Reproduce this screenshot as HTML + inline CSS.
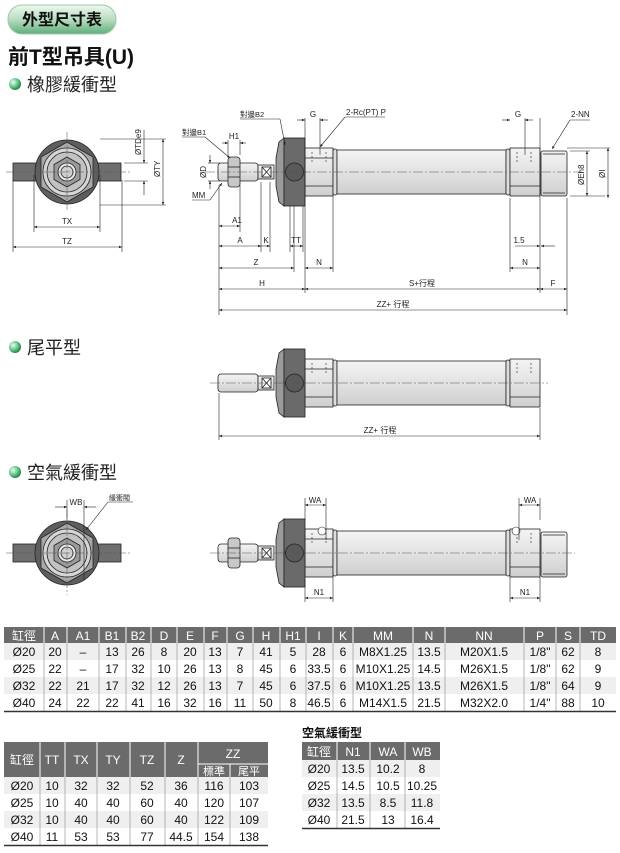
<!DOCTYPE html>
<html><head><meta charset="utf-8"><style>
html,body{margin:0;padding:0;background:#fff;width:620px;height:853px;overflow:hidden}
svg{display:block}
text{font-family:"Liberation Sans","Noto Sans CJK TC",sans-serif}
</style></head><body>
<svg width="620" height="853" viewBox="0 0 620 853" xmlns="http://www.w3.org/2000/svg">
<defs>
<linearGradient id="pill" x1="0" y1="0" x2="0" y2="1"><stop offset="0" stop-color="#eef8f0"/><stop offset="0.5" stop-color="#b8dcc0"/><stop offset="1" stop-color="#5fae7a"/></linearGradient>
<radialGradient id="ball" cx="0.35" cy="0.35" r="0.7"><stop offset="0" stop-color="#e8fff0"/><stop offset="0.6" stop-color="#5cc080"/><stop offset="1" stop-color="#1f7a45"/></radialGradient>
<linearGradient id="metal" x1="0" y1="0" x2="0" y2="1"><stop offset="0" stop-color="#f4f4f4"/><stop offset="0.5" stop-color="#e2e2e2"/><stop offset="1" stop-color="#cfcfcf"/></linearGradient>
<marker id="ar" viewBox="0 0 10 10" refX="10" refY="5" markerWidth="6" markerHeight="5" orient="auto-start-reverse"><path d="M0,1 L10,5 L0,9 z" fill="#222"/></marker>
<g id="cyl" stroke="#222" stroke-width="0.8">
 <rect x="218" y="-9" width="40" height="18" rx="3" fill="url(#metal)"/>
 <rect x="258" y="-7" width="16" height="14" fill="url(#metal)"/>
 <rect x="262" y="-5" width="9" height="10" fill="#fff"/>
 <path d="M262,-5 L271,5 M271,-5 L262,5" fill="none"/>
 <path d="M284,-34 L279,-30 L276,-14 L276,14 L279,30 L284,34 z" fill="#9a9a9a"/>
 <rect x="305" y="-24" width="28" height="48" fill="url(#metal)"/>
 <line x1="305" y1="-14" x2="333" y2="-14"/><line x1="305" y1="14" x2="333" y2="14"/>
 <rect x="333" y="-23" width="4" height="46" rx="2" fill="#ddd"/>
 <rect x="337" y="-22" width="169" height="44" fill="url(#metal)"/>
 <rect x="506" y="-23" width="4" height="46" rx="2" fill="#ddd"/>
 <rect x="510" y="-24" width="30" height="48" fill="url(#metal)"/>
 <line x1="510" y1="14" x2="540" y2="14"/>
 <rect x="284" y="-34" width="21" height="68" fill="#6a6a6a"/>
 <line x1="284" y1="0" x2="305" y2="0"/>
 <circle cx="294.5" cy="0" r="9" fill="#5a5a5a"/>
 <path d="M312,-20 v12 M326,-20 v12 M517,-20 v12 M531,-20 v12" stroke-dasharray="2,2" stroke-width="0.6"/>
</g>
<g id="thread" stroke="#222" stroke-width="0.8"><rect x="541" y="-21" width="26" height="45" rx="2" fill="url(#metal)"/><line x1="543" y1="-18" x2="565" y2="-18"/><line x1="543" y1="21" x2="565" y2="21"/></g>
<g id="nut" stroke="#222" stroke-width="0.8"><rect x="228" y="-15" width="12" height="30" rx="3" fill="#c8c8c8"/><line x1="228" y1="-5" x2="240" y2="-5"/><line x1="228" y1="5" x2="240" y2="5"/></g>
<g id="endv" stroke="#222" stroke-width="0.8">
 <rect x="-54" y="-9" width="108" height="18" fill="#6e6e6e"/>
 <circle r="32" fill="#5e5e5e"/>
 <polygon points="0,-30 26,-15 26,15 0,30 -26,15 -26,-15" fill="#a8a8a8"/>
 <circle r="24" fill="#d6d6d6"/><circle r="20" fill="#c2c2c2"/>
 <polygon points="0,-15 13,-7.5 13,7.5 0,15 -13,7.5 -13,-7.5" fill="#9a9a9a"/>
 <circle r="9" fill="#e6e6e6"/><circle r="6" fill="#cfcfcf"/>
</g>
</defs>

<!-- header -->
<rect x="8" y="5" width="108" height="29" rx="14" fill="url(#pill)" stroke="#9cc9a8"/>
<text x="62" y="25" font-size="16" text-anchor="middle" fill="#111" font-weight="bold">外型尺寸表</text>
<text x="8" y="64" font-size="21" font-weight="bold" fill="#111">前T型吊具(U)</text>
<circle cx="15" cy="84" r="6" fill="url(#ball)"/>
<text x="27" y="91" font-size="18" fill="#222">橡膠緩衝型</text>
<circle cx="15" cy="347" r="6" fill="url(#ball)"/>
<text x="27" y="354" font-size="18" fill="#222">尾平型</text>
<circle cx="15" cy="472" r="6" fill="url(#ball)"/>
<text x="27" y="479" font-size="18" fill="#222">空氣緩衝型</text>

<g font-size="8" fill="#222" stroke-width="0.6">
<!-- end view 1 -->
<use href="#endv" x="67" y="172"/>
<line x1="6" y1="172" x2="130" y2="172" stroke="#555" stroke-dasharray="8,2,2,2" stroke-width="0.5"/>
<line x1="67" y1="132" x2="67" y2="212" stroke="#555" stroke-dasharray="8,2,2,2" stroke-width="0.5"/>
<g stroke="#222">
<line x1="34" y1="175" x2="34" y2="232"/><line x1="100" y1="175" x2="100" y2="232"/>
<line x1="13" y1="180" x2="13" y2="252"/><line x1="122" y1="180" x2="122" y2="252"/>
<line x1="34" y1="227" x2="100" y2="227" marker-start="url(#ar)" marker-end="url(#ar)"/>
<line x1="13" y1="247" x2="122" y2="247" marker-start="url(#ar)" marker-end="url(#ar)"/>
<line x1="124" y1="163" x2="148" y2="163"/><line x1="124" y1="181" x2="148" y2="181"/>
<line x1="144" y1="130" x2="144" y2="163" marker-end="url(#ar)"/><line x1="144" y1="195" x2="144" y2="181" marker-end="url(#ar)"/>
<line x1="100" y1="139" x2="166" y2="139"/><line x1="100" y1="205" x2="166" y2="205"/>
<line x1="163" y1="139" x2="163" y2="205" marker-start="url(#ar)" marker-end="url(#ar)"/>
</g>
<text x="67" y="224" text-anchor="middle">TX</text><text x="67" y="244" text-anchor="middle">TZ</text>
<text transform="translate(141,155) rotate(-90)">ØTDe9</text>
<text transform="translate(160,177) rotate(-90)">ØTY</text>

<!-- side view 1 -->
<use href="#cyl" y="172"/><use href="#thread" y="172"/><use href="#nut" y="172"/>
<line x1="205" y1="172" x2="582" y2="172" stroke="#555" stroke-dasharray="10,2,2,2" stroke-width="0.5"/>
<g stroke="#222">
<line x1="219" y1="185" x2="219" y2="315"/>
<line x1="228" y1="140" x2="228" y2="155"/><line x1="240" y1="140" x2="240" y2="155"/>
<line x1="222" y1="143" x2="228" y2="143" marker-end="url(#ar)"/><line x1="246" y1="143" x2="240" y2="143" marker-end="url(#ar)"/>
<line x1="240" y1="185" x2="240" y2="232"/><line x1="261" y1="182" x2="261" y2="252"/><line x1="270" y1="182" x2="270" y2="252"/>
<line x1="290" y1="206" x2="290" y2="252"/><line x1="303" y1="206" x2="303" y2="252"/><line x1="294" y1="206" x2="294" y2="272"/>
<line x1="305" y1="118" x2="305" y2="293"/><line x1="333" y1="196" x2="333" y2="272"/>
<line x1="510" y1="198" x2="510" y2="272"/><line x1="540" y1="118" x2="540" y2="293"/><line x1="567" y1="198" x2="567" y2="315"/>
<line x1="320" y1="118" x2="320" y2="155"/><line x1="525" y1="118" x2="525" y2="155"/>
<line x1="219" y1="226" x2="240" y2="226" marker-start="url(#ar)" marker-end="url(#ar)"/>
<line x1="219" y1="246" x2="261" y2="246" marker-start="url(#ar)" marker-end="url(#ar)"/>
<line x1="261" y1="246" x2="270" y2="246" marker-end="url(#ar)"/>
<line x1="290" y1="246" x2="303" y2="246" marker-start="url(#ar)" marker-end="url(#ar)"/>
<line x1="219" y1="268" x2="294" y2="268" marker-start="url(#ar)" marker-end="url(#ar)"/>
<line x1="305" y1="268" x2="333" y2="268" marker-start="url(#ar)" marker-end="url(#ar)"/>
<line x1="510" y1="268" x2="540" y2="268" marker-start="url(#ar)" marker-end="url(#ar)"/>
<line x1="219" y1="289" x2="305" y2="289" marker-start="url(#ar)" marker-end="url(#ar)"/>
<line x1="305" y1="289" x2="540" y2="289" marker-start="url(#ar)" marker-end="url(#ar)"/>
<line x1="540" y1="289" x2="567" y2="289" marker-start="url(#ar)" marker-end="url(#ar)"/>
<line x1="219" y1="310" x2="567" y2="310" marker-start="url(#ar)" marker-end="url(#ar)"/>
<line x1="297" y1="120" x2="305" y2="120" marker-end="url(#ar)"/><line x1="328" y1="120" x2="320" y2="120" marker-end="url(#ar)"/>
<line x1="502" y1="120" x2="510" y2="120" marker-end="url(#ar)"/><line x1="533" y1="120" x2="525" y2="120" marker-end="url(#ar)"/>
<line x1="515" y1="246" x2="540" y2="246" marker-end="url(#ar)"/><line x1="555" y1="246" x2="541" y2="246" marker-end="url(#ar)"/>
<line x1="240" y1="119" x2="280" y2="119"/><line x1="280" y1="119" x2="285" y2="145" marker-end="url(#ar)"/>
<line x1="182" y1="137" x2="205" y2="137"/><line x1="205" y1="137" x2="230" y2="158" marker-end="url(#ar)"/>
<line x1="192" y1="200" x2="210" y2="200"/><line x1="210" y1="200" x2="222" y2="183" marker-end="url(#ar)"/>
<line x1="345" y1="117" x2="385" y2="117"/><line x1="345" y1="117" x2="320" y2="147" marker-end="url(#ar)"/>
<line x1="570" y1="120" x2="590" y2="120"/><line x1="570" y1="120" x2="552" y2="149" marker-end="url(#ar)"/>
<line x1="570" y1="151" x2="590" y2="151"/><line x1="570" y1="196" x2="605" y2="196"/><line x1="567" y1="148" x2="610" y2="148"/>
<line x1="587" y1="151" x2="587" y2="196" marker-start="url(#ar)" marker-end="url(#ar)"/>
<line x1="608" y1="148" x2="608" y2="198" marker-start="url(#ar)" marker-end="url(#ar)"/>
<line x1="208" y1="163" x2="220" y2="163"/><line x1="208" y1="181" x2="220" y2="181"/>
<line x1="210" y1="155" x2="210" y2="163" marker-end="url(#ar)"/><line x1="210" y1="189" x2="210" y2="181" marker-end="url(#ar)"/>
</g>
<text x="234" y="139" text-anchor="middle">H1</text>
<text x="240" y="117" font-size="7.5">對邊B2</text>
<text x="182" y="135" font-size="7.5">對邊B1</text>
<text x="192" y="198">MM</text>
<text transform="translate(206,178) rotate(-90)">ØD</text>
<text x="313" y="117" text-anchor="middle">G</text><text x="518" y="117" text-anchor="middle">G</text>
<text x="346" y="115">2-Rc(PT) P</text><text x="571" y="117">2-NN</text>
<text transform="translate(584,185) rotate(-90)">ØEh8</text>
<text transform="translate(605,178) rotate(-90)">ØI</text>
<text x="237" y="223" text-anchor="middle">A1</text>
<text x="240" y="243" text-anchor="middle">A</text><text x="266" y="243" text-anchor="middle">K</text><text x="296" y="243" text-anchor="middle">TT</text>
<text x="519" y="243" text-anchor="middle">1.5</text>
<text x="256" y="265" text-anchor="middle">Z</text><text x="319" y="265" text-anchor="middle">N</text><text x="525" y="265" text-anchor="middle">N</text>
<text x="262" y="286" text-anchor="middle">H</text><text x="422" y="286" text-anchor="middle">S+行程</text><text x="553" y="286" text-anchor="middle">F</text>
<text x="393" y="307" text-anchor="middle">ZZ+ 行程</text>

<!-- side view 2 -->
<use href="#cyl" y="383"/>
<line x1="210" y1="383" x2="548" y2="383" stroke="#555" stroke-dasharray="10,2,2,2" stroke-width="0.5"/>
<g stroke="#222"><line x1="219" y1="393" x2="219" y2="440"/><line x1="540" y1="408" x2="540" y2="440"/>
<line x1="219" y1="436" x2="540" y2="436" marker-start="url(#ar)" marker-end="url(#ar)"/></g>
<text x="380" y="433" text-anchor="middle">ZZ+ 行程</text>

<!-- end view 3 -->
<use href="#endv" x="67" y="553"/>
<line x1="6" y1="553" x2="130" y2="553" stroke="#555" stroke-dasharray="8,2,2,2" stroke-width="0.5"/>
<line x1="67" y1="510" x2="67" y2="595" stroke="#555" stroke-dasharray="8,2,2,2" stroke-width="0.5"/>
<g stroke="#222"><line x1="67" y1="500" x2="67" y2="520"/><line x1="84" y1="500" x2="84" y2="580"/>
<line x1="55" y1="507" x2="67" y2="507" marker-end="url(#ar)"/><line x1="96" y1="507" x2="84" y2="507" marker-end="url(#ar)"/>
<line x1="108" y1="502" x2="133" y2="502"/><line x1="108" y1="502" x2="86" y2="530" marker-end="url(#ar)"/></g>
<text x="76" y="505" text-anchor="middle">WB</text><text x="109" y="500" font-size="7">緩衝閥</text>

<!-- side view 3 -->
<use href="#cyl" y="553"/><use href="#thread" y="553"/><use href="#nut" y="553"/>
<circle cx="322" cy="531" r="4" fill="#fff" stroke="#222" stroke-width="0.6"/>
<circle cx="516" cy="531" r="4" fill="#fff" stroke="#222" stroke-width="0.6"/>
<line x1="210" y1="553" x2="575" y2="553" stroke="#555" stroke-dasharray="10,2,2,2" stroke-width="0.5"/>
<g stroke="#222"><line x1="305" y1="498" x2="305" y2="520"/><line x1="326" y1="498" x2="326" y2="540"/>
<line x1="519" y1="498" x2="519" y2="540"/><line x1="540" y1="498" x2="540" y2="520"/>
<line x1="305" y1="505" x2="326" y2="505" marker-start="url(#ar)" marker-end="url(#ar)"/>
<line x1="519" y1="505" x2="540" y2="505" marker-start="url(#ar)" marker-end="url(#ar)"/>
<line x1="305" y1="580" x2="305" y2="602"/><line x1="333" y1="577" x2="333" y2="602"/>
<line x1="510" y1="577" x2="510" y2="602"/><line x1="540" y1="577" x2="540" y2="602"/>
<line x1="305" y1="598" x2="333" y2="598" marker-start="url(#ar)" marker-end="url(#ar)"/>
<line x1="510" y1="598" x2="540" y2="598" marker-start="url(#ar)" marker-end="url(#ar)"/></g>
<text x="315" y="503" text-anchor="middle">WA</text><text x="530" y="503" text-anchor="middle">WA</text>
<text x="319" y="595" text-anchor="middle">N1</text><text x="525" y="595" text-anchor="middle">N1</text>
</g>

<!-- table 1 -->
<g font-size="12" fill="#111" text-anchor="middle">
<rect x="4" y="627" width="612" height="16" fill="#6b6b6b"/>
<rect x="4" y="643" width="612" height="17" fill="#efefef"/>
<rect x="4" y="677" width="612" height="17" fill="#efefef"/>
<g stroke="#fff" stroke-width="1">
<path d="M44,627v16M67,627v16M99,627v16M126,627v16M151,627v16M177,627v16M204,627v16M227,627v16M253,627v16M280,627v16M306,627v16M333,627v16M353,627v16M413,627v16M445,627v16M524,627v16M556,627v16M580,627v16"/></g>
<g stroke="#888" stroke-width="0.6">
<path d="M44,643v68M67,643v68M99,643v68M126,643v68M151,643v68M177,643v68M204,643v68M227,643v68M253,643v68M280,643v68M306,643v68M333,643v68M353,643v68M413,643v68M445,643v68M524,643v68M556,643v68M580,643v68"/></g>
<line x1="4" y1="711.5" x2="616" y2="711.5" stroke="#333" stroke-width="1.5"/>
<g fill="#fff"><text x="24" y="640" font-family="Noto Sans CJK TC,sans-serif">缸徑</text><text x="55" y="640">A</text><text x="83" y="640">A1</text><text x="112" y="640">B1</text><text x="138" y="640">B2</text><text x="164" y="640">D</text><text x="190" y="640">E</text><text x="215" y="640">F</text><text x="240" y="640">G</text><text x="266" y="640">H</text><text x="293" y="640">H1</text><text x="319" y="640">I</text><text x="343" y="640">K</text><text x="383" y="640">MM</text><text x="429" y="640">N</text><text x="484" y="640">NN</text><text x="540" y="640">P</text><text x="568" y="640">S</text><text x="598" y="640">TD</text></g>
<g id="r1"><text x="24" y="656">Ø20</text><text x="55" y="656">20</text><text x="83" y="656">–</text><text x="112" y="656">13</text><text x="138" y="656">26</text><text x="164" y="656">8</text><text x="190" y="656">20</text><text x="215" y="656">13</text><text x="240" y="656">7</text><text x="266" y="656">41</text><text x="293" y="656">5</text><text x="319" y="656">28</text><text x="343" y="656">6</text><text x="383" y="656">M8X1.25</text><text x="429" y="656">13.5</text><text x="484" y="656">M20X1.5</text><text x="540" y="656">1/8"</text><text x="568" y="656">62</text><text x="598" y="656">8</text></g>
<g><text x="24" y="673">Ø25</text><text x="55" y="673">22</text><text x="83" y="673">–</text><text x="112" y="673">17</text><text x="138" y="673">32</text><text x="164" y="673">10</text><text x="190" y="673">26</text><text x="215" y="673">13</text><text x="240" y="673">8</text><text x="266" y="673">45</text><text x="293" y="673">6</text><text x="319" y="673">33.5</text><text x="343" y="673">6</text><text x="383" y="673">M10X1.25</text><text x="429" y="673">14.5</text><text x="484" y="673">M26X1.5</text><text x="540" y="673">1/8"</text><text x="568" y="673">62</text><text x="598" y="673">9</text></g>
<g><text x="24" y="690">Ø32</text><text x="55" y="690">22</text><text x="83" y="690">21</text><text x="112" y="690">17</text><text x="138" y="690">32</text><text x="164" y="690">12</text><text x="190" y="690">26</text><text x="215" y="690">13</text><text x="240" y="690">7</text><text x="266" y="690">45</text><text x="293" y="690">6</text><text x="319" y="690">37.5</text><text x="343" y="690">6</text><text x="383" y="690">M10X1.25</text><text x="429" y="690">13.5</text><text x="484" y="690">M26X1.5</text><text x="540" y="690">1/8"</text><text x="568" y="690">64</text><text x="598" y="690">9</text></g>
<g><text x="24" y="707">Ø40</text><text x="55" y="707">24</text><text x="83" y="707">22</text><text x="112" y="707">22</text><text x="138" y="707">41</text><text x="164" y="707">16</text><text x="190" y="707">32</text><text x="215" y="707">16</text><text x="240" y="707">11</text><text x="266" y="707">50</text><text x="293" y="707">8</text><text x="319" y="707">46.5</text><text x="343" y="707">6</text><text x="383" y="707">M14X1.5</text><text x="429" y="707">21.5</text><text x="484" y="707">M32X2.0</text><text x="540" y="707">1/4"</text><text x="568" y="707">88</text><text x="598" y="707">10</text></g>

<!-- table 2 -->
<rect x="4" y="742" width="264" height="35" fill="#6b6b6b"/>
<rect x="4" y="777" width="264" height="17" fill="#efefef"/>
<rect x="4" y="811" width="264" height="17" fill="#efefef"/>
<g stroke="#fff"><path d="M40,742v35M65,742v35M97,742v35M130,742v35M165,742v35M198,742v35M230,764v13M198,764h70"/></g>
<g stroke="#888" stroke-width="0.6"><path d="M40,777v68M65,777v68M97,777v68M130,777v68M165,777v68M198,777v68M230,777v68"/></g>
<line x1="4" y1="845.5" x2="268" y2="845.5" stroke="#333" stroke-width="1.5"/>
<g fill="#fff"><text x="22" y="764">缸徑</text><text x="52" y="764">TT</text><text x="81" y="764">TX</text><text x="113" y="764">TY</text><text x="147" y="764">TZ</text><text x="181" y="764">Z</text><text x="233" y="758">ZZ</text><text x="214" y="775" font-size="11">標準</text><text x="249" y="775" font-size="11">尾平</text></g>
<g><text x="22" y="790">Ø20</text><text x="52" y="790">10</text><text x="81" y="790">32</text><text x="113" y="790">32</text><text x="147" y="790">52</text><text x="181" y="790">36</text><text x="214" y="790">116</text><text x="249" y="790">103</text></g>
<g><text x="22" y="807">Ø25</text><text x="52" y="807">10</text><text x="81" y="807">40</text><text x="113" y="807">40</text><text x="147" y="807">60</text><text x="181" y="807">40</text><text x="214" y="807">120</text><text x="249" y="807">107</text></g>
<g><text x="22" y="824">Ø32</text><text x="52" y="824">10</text><text x="81" y="824">40</text><text x="113" y="824">40</text><text x="147" y="824">60</text><text x="181" y="824">40</text><text x="214" y="824">122</text><text x="249" y="824">109</text></g>
<g><text x="22" y="841">Ø40</text><text x="52" y="841">11</text><text x="81" y="841">53</text><text x="113" y="841">53</text><text x="147" y="841">77</text><text x="181" y="841">44.5</text><text x="214" y="841">154</text><text x="249" y="841">138</text></g>

<!-- table 3 -->
<text x="302" y="737" text-anchor="start" font-weight="bold" font-size="12">空氣緩衝型</text>
<rect x="302" y="742" width="138" height="18" fill="#6b6b6b"/>
<rect x="302" y="760" width="138" height="17" fill="#efefef"/>
<rect x="302" y="794" width="138" height="17" fill="#efefef"/>
<g stroke="#fff"><path d="M337,742v18M370,742v18M405,742v18"/></g>
<g stroke="#888" stroke-width="0.6"><path d="M337,760v68M370,760v68M405,760v68"/></g>
<line x1="302" y1="828.5" x2="440" y2="828.5" stroke="#333" stroke-width="1.5"/>
<g fill="#fff"><text x="319" y="756">缸徑</text><text x="353" y="756">N1</text><text x="388" y="756">WA</text><text x="422" y="756">WB</text></g>
<g><text x="319" y="773">Ø20</text><text x="353" y="773">13.5</text><text x="388" y="773">10.2</text><text x="422" y="773">8</text></g>
<g><text x="319" y="790">Ø25</text><text x="353" y="790">14.5</text><text x="388" y="790">10.5</text><text x="422" y="790">10.25</text></g>
<g><text x="319" y="807">Ø32</text><text x="353" y="807">13.5</text><text x="388" y="807">8.5</text><text x="422" y="807">11.8</text></g>
<g><text x="319" y="824">Ø40</text><text x="353" y="824">21.5</text><text x="388" y="824">13</text><text x="422" y="824">16.4</text></g>
</g>
</svg>
</body></html>
